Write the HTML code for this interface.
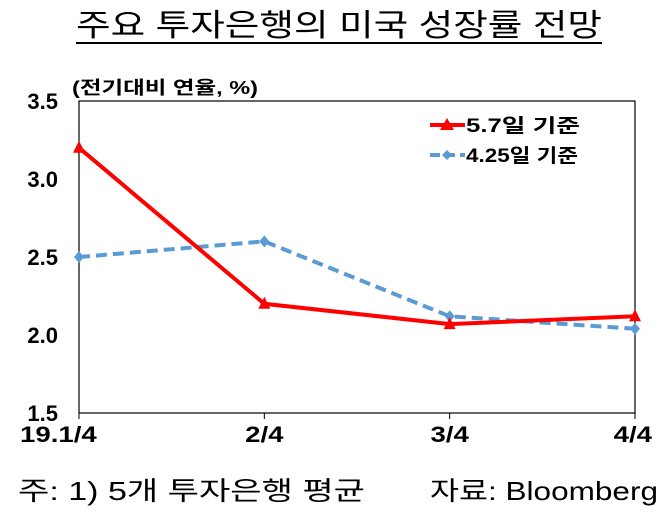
<!DOCTYPE html>
<html><head><meta charset="utf-8"><style>
body{margin:0;background:#fff;width:669px;height:515px;overflow:hidden;font-family:"Liberation Sans","Noto Sans CJK KR",sans-serif}
</style></head><body>
<svg width="669" height="515">
<text x="76" y="36" textLength="526" lengthAdjust="spacingAndGlyphs" font-size="31">주요 투자은행의 미국 성장률 전망</text>
<line x1="76" y1="43" x2="602" y2="43" stroke="#000" stroke-width="2"/>
<text x="72" y="94" textLength="186" lengthAdjust="spacingAndGlyphs" font-size="18" font-weight="bold">(전기대비 연율, %)</text>
<rect x="79" y="101" width="556" height="312" fill="none" stroke="#000" stroke-width="1.2"/>
<g id="yt"></g>
<g id="xt"></g>
<g id="series"></g>
<g>
<g>
<line x1="430" y1="125" x2="465" y2="125" stroke="#f00" stroke-width="4"/>
<polygon points="447,118 454,130 440,130" fill="#f00"/>
<text x="466" y="132" textLength="114" lengthAdjust="spacingAndGlyphs" font-size="19" font-weight="bold">5.7일 기준</text></g>
<g>
<line x1="430" y1="155" x2="465" y2="155" stroke="#5b9bd5" stroke-width="4" stroke-dasharray="10,5"/>
<polygon points="447,150 452,155 447,160 442,155" fill="#5b9bd5"/>
<text x="466" y="162" textLength="112" lengthAdjust="spacingAndGlyphs" font-size="19" font-weight="bold">4.25일 기준</text></g>
</g>
<text x="18" y="500" textLength="347" lengthAdjust="spacingAndGlyphs" font-size="26">주: 1) 5개 투자은행 평균</text>
<text x="430" y="500" textLength="228" lengthAdjust="spacingAndGlyphs" font-size="26">자료: Bloomberg</text>
</svg>
<script>
const categories=["19.1/4","2/4","3/4","4/4"];
const yTicks=[1.5,2.0,2.5,3.0,3.5];
const may7=[3.2,2.2,2.07,2.12];
const apr25=[2.5,2.6,2.12,2.04];
const NS="http://www.w3.org/2000/svg";
const X0=79,X1=635,Y0=413,Y1=101,YMIN=1.5,YMAX=3.5;
const xs=i=>X0+i*(X1-X0)/(categories.length-1);
const ys=v=>Y0-(v-YMIN)/(YMAX-YMIN)*(Y0-Y1);
function mk(tag,attrs,parent){const e=document.createElementNS(NS,tag);for(const k in attrs)e.setAttribute(k,attrs[k]);parent.appendChild(e);return e;}
const yt=document.getElementById('yt'),xt=document.getElementById('xt'),sr=document.getElementById('series');
yTicks.forEach(v=>{const t=mk('text',{x:58,y:ys(v)+8,'text-anchor':'end','font-size':22,'font-weight':'bold'},yt);t.textContent=v.toFixed(1);

});
categories.forEach((c,i)=>{const x=xs(i);const l=mk('line',{x1:x,y1:Y0,x2:x,y2:Y0+6,stroke:'#000'},xt);


const w=c.length*12.8;
let left=x-w/2;
if(i==0)left=20;
if(i==categories.length-1)left=652-w;
const t=mk('text',{x:left,y:442,textLength:w,lengthAdjust:'spacingAndGlyphs','font-size':22,'font-weight':'bold'},xt);t.textContent=c;

});
function line(vals,color,dash,name){const p=mk('polyline',{points:vals.map((v,i)=>xs(i)+','+ys(v)).join(' '),fill:'none',stroke:color,'stroke-width':4,'stroke-dasharray':dash},sr);

}
line(apr25,'#5b9bd5','11,6','apr25');
apr25.forEach((v,i)=>{const x=xs(i),y=ys(v);const m=mk('polygon',{points:`${x},${y-6} ${x+5},${y} ${x},${y+6} ${x-5},${y}`,fill:'#5b9bd5'},sr);

});
line(may7,'#f00','none','may7');
may7.forEach((v,i)=>{const x=xs(i),y=ys(v);const m=mk('polygon',{points:`${x},${y-7} ${x+6},${y+5} ${x-6},${y+5}`,fill:'#f00'},sr);

});
</script>
</body></html>
